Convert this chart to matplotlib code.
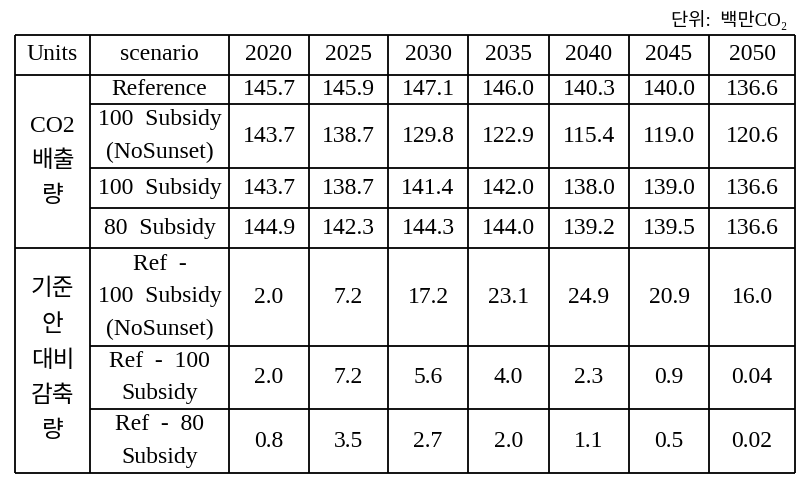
import matplotlib
matplotlib.use("Agg")
import matplotlib.pyplot as plt

plt.rcParams['font.family'] = ['Liberation Serif', 'Noto Sans CJK KR']

years = [2020, 2025, 2030, 2035, 2040, 2045, 2050]
header = ["Units", "scenario"] + [str(y) for y in years]

scenarios = ["Reference", "100  Subsidy\n(NoSunset)", "100  Subsidy", "80  Subsidy",
             "Ref  -\n100  Subsidy\n(NoSunset)", "Ref  -  100\nSubsidy", "Ref  -  80\nSubsidy"]
groups = ["CO2\n배출\n량", "기준\n안\n대비\n감축\n량"]

reference = [145.7, 145.9, 147.1, 146.0, 140.3, 140.0, 136.6]
sub100_nosunset = [143.7, 138.7, 129.8, 122.9, 115.4, 119.0, 120.6]
sub100 = [143.7, 138.7, 141.4, 142.0, 138.0, 139.0, 136.6]
sub80 = [144.9, 142.3, 144.3, 144.0, 139.2, 139.5, 136.6]
red_nosunset = [2.0, 7.2, 17.2, 23.1, 24.9, 20.9, 16.0]
red_100 = [2.0, 7.2, 5.6, 4.0, 2.3, 0.9, 0.04]
red_80 = [0.8, 3.5, 2.7, 2.0, 1.1, 0.5, 0.02]
rows = [reference, sub100_nosunset, sub100, sub80, red_nosunset, red_100, red_80]

# table grid in pixels
col_x = [15, 90, 229, 309, 388, 468, 549, 629, 709, 795]
row_y = [35, 75, 104, 168, 208, 248, 346, 409, 473]
group_rows = [(1, 5), (5, 8)]

fig = plt.figure(figsize=(8.1, 4.86), dpi=100)
ax = fig.add_axes([0, 0, 1, 1])
ax.set_xlim(0, 810)
ax.set_ylim(486, 0)
ax.axis('off')

lw = 1.3
# vertical lines
for x in col_x:
    ax.vlines(x, row_y[0], row_y[-1], color='black', lw=lw)
# horizontal lines
for i, y in enumerate(row_y):
    if i in (0, 1, 5, 8):
        ax.hlines(y, col_x[0], col_x[-1], color='black', lw=lw)
    else:
        ax.hlines(y, col_x[1], col_x[-1], color='black', lw=lw)

fs = 17
def cx(i):
    return (col_x[i] + col_x[i + 1]) / 2

def cy(j):
    return (row_y[j] + row_y[j + 1]) / 2

for i, h in enumerate(header):
    ax.text(cx(i), cy(0), h, ha='center', va='center', fontsize=fs)

for (a, b), g in zip(group_rows, groups):
    ax.text(cx(0), (row_y[a] + row_y[b]) / 2, g, ha='center', va='center',
            fontsize=fs, linespacing=1.85)

for r, (name, vals) in enumerate(zip(scenarios, rows)):
    ax.text(cx(1), cy(r + 1), name, ha='center', va='center', fontsize=fs,
            linespacing=1.72)
    for c, v in enumerate(vals):
        s = f"{v:.2f}" if v < 0.1 else f"{v:.1f}"
        ax.text(cx(c + 2), cy(r + 1), s, ha='center', va='center', fontsize=fs)

ax.text(787, 20, "단위:  백만CO₂", ha='right', va='center', fontsize=13.5)

fig.savefig("out.png", dpi=100)
